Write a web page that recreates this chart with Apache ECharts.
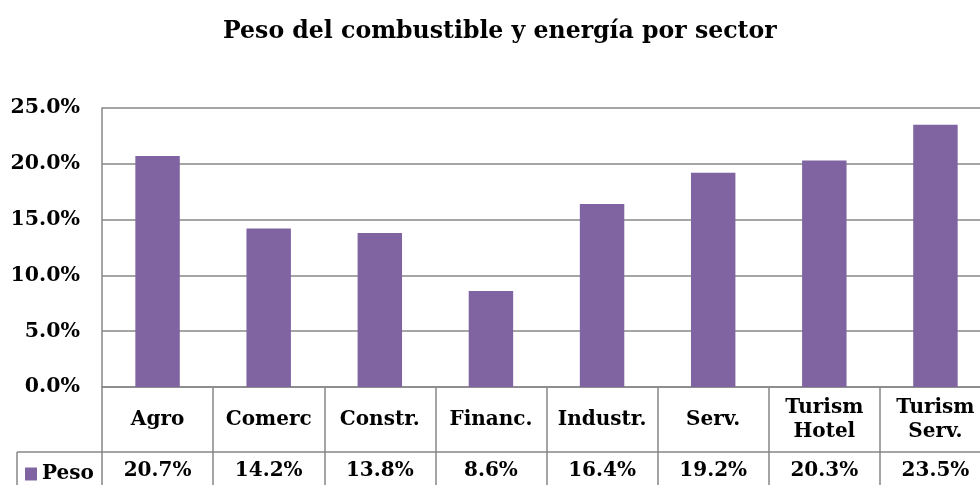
<!DOCTYPE html>
<html>
<head>
<meta charset="utf-8">
<script src="https://cdn.jsdelivr.net/npm/echarts@6/dist/echarts.min.js"></script>
<style>
  html, body { margin: 0; padding: 0; background: #fff; }
  #main { width: 980px; height: 485px; }
</style>
</head>
<body>
<div id="main"></div>
<script>
  // categorías (sectores) y peso en %
  var sectores = ['Agro', 'Comerc', 'Constr.', 'Financ.', 'Industr.', 'Serv.', 'Turism\nHotel', 'Turism\nServ.'];
  var peso = [20.7, 14.2, 13.8, 8.6, 16.4, 19.2, 20.3, 23.5];
  var yTicks = [0, 5, 10, 15, 20, 25];

  var fuente = 'DejaVu Serif';
  var gris = '#878787';

  var chart = echarts.init(document.getElementById('main'));

  var option = {
    animation: false,
    title: {
      text: 'Peso del combustible y energía por sector',
      left: 218,
      top: 15,
      textStyle: { fontFamily: fuente, fontWeight: 'bold', fontSize: 23.6, color: '#000' }
    },
    legend: {
      data: ['Peso'],
      left: 20,
      top: 459,
      icon: 'rect',
      itemWidth: 12,
      itemHeight: 13,
      itemGap: 6,
      textStyle: { fontFamily: fuente, fontWeight: 'bold', fontSize: 20, color: '#000' }
    },
    // el área de trazado sigue más allá del borde derecho
    grid: { left: 102, top: 108, bottom: 98, right: -11, outerBoundsMode: 'none' },
    xAxis: [
      {
        type: 'category',
        data: sectores,
        axisLine: { show: true, lineStyle: { color: gris, width: 1.5 } },
        axisTick: { show: true, length: 98, inside: false, alignWithLabel: false, lineStyle: { color: gris, width: 1.5 } },
        axisLabel: {
          interval: 0, margin: 33, verticalAlign: 'middle', lineHeight: 24,
          fontFamily: fuente, fontWeight: 'bold', fontSize: 20, color: '#000'
        }
      },
      {
        type: 'category',
        position: 'bottom',
        offset: 65,
        data: peso.map(function (v) { return v.toFixed(1) + '%'; }),
        axisLine: { show: true, lineStyle: { color: gris, width: 1.5 } },
        axisTick: { show: false },
        axisLabel: {
          interval: 0, margin: 19, verticalAlign: 'middle',
          fontFamily: fuente, fontWeight: 'bold', fontSize: 20, color: '#000'
        }
      }
    ],
    yAxis: {
      type: 'value',
      min: yTicks[0],
      max: yTicks[yTicks.length - 1],
      interval: 5,
      axisLine: { show: true, lineStyle: { color: gris, width: 1.5 } },
      axisTick: { show: false },
      splitLine: { lineStyle: { color: gris, width: 1.5 } },
      axisLabel: {
        margin: 22,
        formatter: function (v) { return v.toFixed(1) + '%'; },
        fontFamily: fuente, fontWeight: 'bold', fontSize: 20.5, color: '#000'
      }
    },
    // trozo de la tabla de datos a la izquierda del área de trazado
    graphic: [
      { type: 'line', shape: { x1: 17, y1: 452, x2: 102, y2: 452 }, style: { stroke: gris, lineWidth: 1.5 } },
      { type: 'line', shape: { x1: 17, y1: 452, x2: 17, y2: 485 }, style: { stroke: gris, lineWidth: 1.5 } }
    ],
    series: [
      {
        name: 'Peso',
        type: 'bar',
        data: peso,
        barWidth: '40%',
        itemStyle: { color: '#8064A2' }
      }
    ]
  };

  chart.setOption(option);
</script>
</body>
</html>
